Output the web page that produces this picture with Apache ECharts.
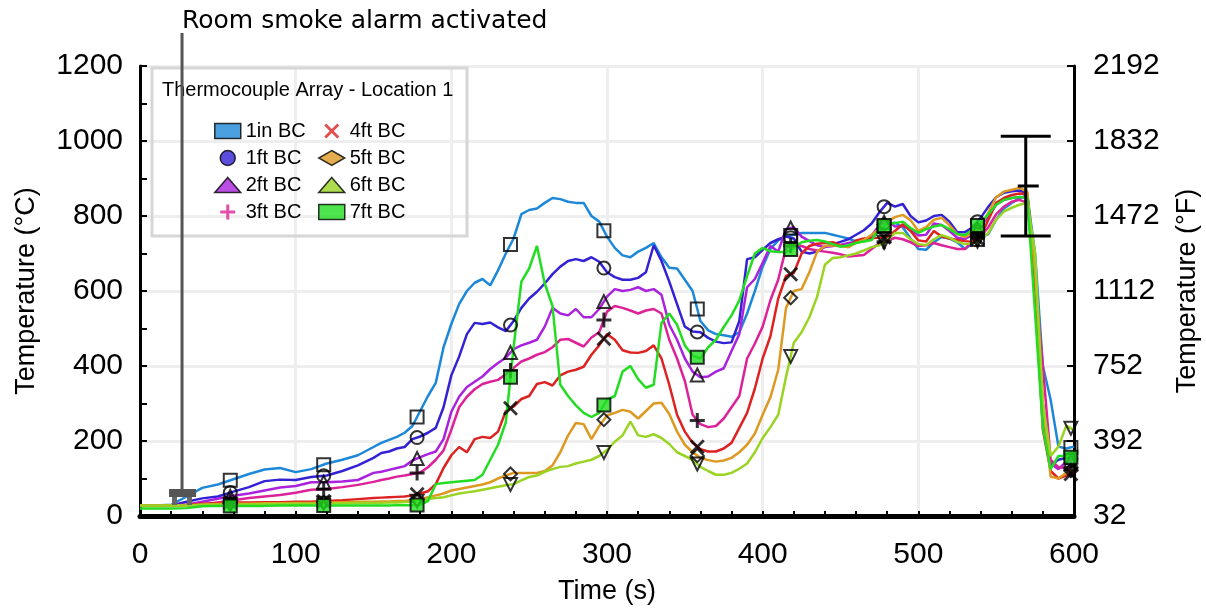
<!DOCTYPE html>
<html><head><meta charset="utf-8">
<script src="https://cdn.jsdelivr.net/npm/echarts@6/dist/echarts.min.js"></script>
<style>html,body{margin:0;padding:0;background:#fff}#c{width:1206px;height:609px}</style>
</head><body><div id="c"></div>
<script>
// ---------- DATA ----------
const times = [0,10,20,30,40,50,60,70,80,90,100,110,120,130,140,150,
155,160,165,170,175,180,185,190,195,200,
205,210,215,220,225,230,235,240,245,250,
255,260,265,270,275,280,285,290,295,300,
305,310,315,320,325,330,335,340,345,350,
355,360,365,370,375,380,385,390,395,400,
405,410,415,420,425,430,435,440,445,450,
455,460,465,470,475,480,485,490,495,500,
505,510,515,520,525,530,535,540,545,550,
555,560,565,570,575,580,585,590,595,600];

const tc1in = [28,28,30,52,75,84,98,112,124,128,117,125,140,150,162,184,
195,203,211,222,240,280,320,355,450,512,
565,600,622,632,615,655,700,740,805,816,
820,835,848,845,838,835,835,800,785,745,
715,695,690,705,715,728,690,662,660,630,
600,520,495,485,482,478,490,540,600,665,
712,735,745,750,755,755,755,755,750,745,
740,732,735,742,760,780,782,770,740,712,
710,730,744,740,730,712,728,744,752,790,
820,835,848,855,700,400,310,185,180,185];

const tc1ft = [28,28,28,38,47,52,65,77,93,97,96,104,108,120,135,155,
168,172,180,184,205,212,222,235,290,375,
425,485,515,512,516,503,493,520,555,580,
598,620,645,665,680,685,680,690,678,650,
637,630,630,635,650,722,680,625,565,505,
492,490,475,465,461,463,520,685,690,710,
728,738,745,740,705,700,705,718,725,731,
738,750,762,780,810,835,825,832,800,783,
788,800,803,785,757,757,770,795,825,850,
862,866,868,860,640,260,135,150,155,150];

const tc2ft = [28,28,28,30,38,46,54,60,68,76,80,90,90,92,96,115,
118,123,128,133,148,157,165,172,205,278,
318,344,358,372,392,408,422,445,455,462,
470,505,555,540,535,552,530,530,552,585,
605,600,603,610,600,605,590,510,470,420,
385,370,372,385,394,440,485,610,632,675,
720,705,765,770,745,733,722,717,720,723,
728,731,737,748,775,789,772,773,765,748,
750,780,776,760,742,738,752,770,800,830,
843,848,851,848,620,300,140,125,145,150];

const tc3ft = [28,28,28,28,30,36,42,48,52,56,62,70,72,77,83,91,
96,100,105,108,112,116,130,150,175,230,
290,318,338,352,358,363,378,395,412,420,
430,437,450,470,472,462,452,476,490,545,
560,555,548,540,548,552,540,470,420,360,
270,245,237,240,260,290,320,420,460,505,
576,630,715,725,720,712,708,705,702,698,
692,694,696,712,728,734,742,738,730,720,
722,728,722,717,712,712,735,745,770,805,
825,838,843,835,630,400,150,130,128,120];

const tc4ft = [28,28,28,30,33,35,36,36,37,37,38,38,40,42,45,48,
49,50,51,52,55,60,66,85,128,162,
184,170,205,211,208,225,280,292,312,320,
352,357,348,375,385,390,398,430,455,485,
470,442,436,435,440,455,420,350,270,225,
195,178,172,172,180,195,235,275,340,420,
480,580,640,648,700,720,726,728,730,722,
717,735,740,741,742,744,760,778,760,735,
732,760,745,740,736,733,731,745,790,835,
848,856,860,858,600,230,120,100,108,115];

const tc5ft = [28,28,28,28,30,32,33,33,34,34,35,35,36,37,38,38,
39,39,40,40,42,45,50,55,60,68,
72,76,80,84,90,100,108,115,115,115,
115,120,135,170,215,248,245,205,240,268,
275,283,278,260,280,300,302,272,225,190,
170,155,149,145,148,155,170,190,220,270,
317,390,555,600,605,650,705,720,722,720,
717,728,736,750,765,785,797,803,789,760,
770,790,795,775,752,744,755,771,810,850,
865,870,875,865,650,300,105,100,115,125];

const tc6ft = [28,28,28,28,30,30,31,31,32,32,33,33,34,34,35,35,
35,36,36,37,38,40,45,48,50,55,
60,63,66,70,74,78,82,85,95,104,
108,118,125,131,133,140,145,150,160,176,
198,215,252,215,211,218,208,192,170,160,
150,131,120,110,110,115,126,140,170,208,
237,270,371,462,490,530,585,670,688,690,
695,700,708,717,722,735,755,755,738,725,
722,738,749,742,731,725,728,736,755,790,
812,822,830,835,700,300,160,185,240,230];

const tc7ft = [20,20,20,21,26,27,27,27,27,28,28,28,28,28,28,28,
28,28,29,29,29,30,40,85,88,90,
92,94,96,110,150,190,250,450,625,660,
720,620,560,350,320,295,275,264,275,310,
320,385,400,365,342,350,515,540,510,455,
428,420,450,470,504,535,575,640,700,715,
706,704,704,715,730,734,736,732,725,718,
722,728,732,736,765,781,781,785,768,755,
765,772,776,765,752,749,765,781,805,830,
843,848,851,848,540,235,125,160,160,155];

const seriesNames = ['1in BC','1ft BC','2ft BC','3ft BC','4ft BC','5ft BC','6ft BC','7ft BC'];
const seriesValues = [tc1in, tc1ft, tc2ft, tc3ft, tc4ft, tc5ft, tc6ft, tc7ft];
const seriesColors = ['#1e88d8','#3322d4','#aa22dd','#dd2299','#dd2222','#dd9922','#99d422','#22dd22'];
const markerTimes = [58,118,178,238,298,358,418,478,538,598];

const leftTickLabels  = ['0','200','400','600','800','1000','1200'];
const rightTickLabels = ['32','392','752','1112','1472','1832','2192'];
const xTickLabels     = ['0','100','200','300','400','500','600'];

const alarmTime = 27;          // s, room smoke alarm activated
const alarmLabel = 'Room smoke alarm activated';
const legendTitle = 'Thermocouple Array - Location 1';
const errorBar = [[569, 880, 133]]; // time, centre, half-range

// ---------- STYLE HELPERS ----------
const PLUS = 'path://M-1.2,-6H1.2V-1.2H6V1.2H1.2V6H-1.2V1.2H-6V-1.2H-1.2Z';
const CROSS = 'path://M-4.4,-6L0,-1.6L4.4,-6L6,-4.4L1.6,0L6,4.4L4.4,6L0,1.6L-4.4,6L-6,4.4L-1.6,0L-6,-4.4Z';
const symbols = ['rect','circle','triangle',PLUS,CROSS,'diamond','triangle','rect'];
const rotates = [0,0,0,0,0,0,180,0];

function valueAt(arr, t){
  for (let i=0;i<times.length-1;i++){
    if (t>=times[i] && t<=times[i+1]){
      const f=(t-times[i])/(times[i+1]-times[i]);
      return arr[i]+f*(arr[i+1]-arr[i]);
    }
  }
  return arr[arr.length-1];
}

const series = [];
seriesNames.forEach((name,i)=>{
  series.push({
    name: name+' ', type:'line', data: times.map((t,k)=>[t, seriesValues[i][k]]),
    showSymbol:false, symbol:'none', lineStyle:{color:seriesColors[i], width:2.5},
    itemStyle:{color:seriesColors[i]}, z:2, silent:true, animation:false
  });
});
seriesNames.forEach((name,i)=>{
  const filled = (i===3 || i===4);
  const st = (i===7) ? {color:seriesColors[i], borderColor:'#000', borderWidth:2}
           : filled ? {color:'#000'}
           : {color:'rgba(0,0,0,0)', borderColor:'#000', borderWidth:2};
  series.push({
    name: name, type:'scatter', data: markerTimes.map(t=>[t, valueAt(seriesValues[i], t)]),
    symbol: symbols[i], symbolRotate: rotates[i], symbolSize: (i===3||i===4)?15:13,
    itemStyle: st, z:4, animation:false
  });
});
series.push({
  type:'custom', data: errorBar, z:6, animation:false, silent:true,
  renderItem(params, api){
    const t=api.value(0), m=api.value(1), h=api.value(2);
    const top=api.coord([t,m+h]), mid=api.coord([t,m]), bot=api.coord([t,m-h]);
    const ls={stroke:'#000', lineWidth:3};
    return {type:'group', children:[
      {type:'line', shape:{x1:top[0],y1:top[1],x2:bot[0],y2:bot[1]}, style:ls},
      {type:'line', shape:{x1:top[0]-25,y1:top[1],x2:top[0]+25,y2:top[1]}, style:ls},
      {type:'line', shape:{x1:bot[0]-25,y1:bot[1],x2:bot[0]+25,y2:bot[1]}, style:ls},
      {type:'line', shape:{x1:mid[0]-8,y1:mid[1],x2:mid[0]+13,y2:mid[1]}, style:ls}
    ]};
  }
});

function legendItem(i){
  const filled = (i===3 || i===4);
  return {name:seriesNames[i], icon:symbols[i], itemStyle: filled ? {color:seriesColors[i], borderWidth:0}
          : {color:seriesColors[i], borderColor:'#000', borderWidth:1.5}};
}
const legendBase = {orient:'vertical', top:116, itemWidth:26, itemHeight:15, itemGap:7,
  symbolKeepAspect:true, selectedMode:false,
  textStyle:{fontFamily:'"Liberation Sans", Arial, sans-serif', fontSize:20, color:'#000'}};

const tickFont = '"Liberation Sans Narrow", "Arial Narrow", "Liberation Sans", sans-serif';
const nameFont = '"Liberation Sans", Arial, sans-serif';

const option = {
  animation:false,
  backgroundColor:'#fff',
  grid:{left:140, right:132, top:66, bottom:93, containLabel:false, outerBoundsMode:'none'},
  legend:[
    Object.assign({}, legendBase, {left:209, data:[0,1,2,3].map(legendItem)}),
    Object.assign({}, legendBase, {left:313, data:[4,5,6,7].map(legendItem)})
  ],
  xAxis:{type:'value', min:0, max:600, interval:100,
    axisLine:{lineStyle:{color:'#000', width:5}},
    axisTick:{show:true, inside:true, length:5, lineStyle:{color:'#000', width:2}},
    minorTick:{show:true, splitNumber:5, length:5, lineStyle:{color:'#000', width:2}},
    splitLine:{show:true, lineStyle:{color:'#eeeeee', width:3}},
    axisLabel:{fontFamily:tickFont, fontSize:30, color:'#000', margin:24,
      formatter:(v)=>xTickLabels[Math.round(v/100)]},
    name:'Time (s)', nameLocation:'middle', nameGap:62,
    nameTextStyle:{fontFamily:nameFont, fontSize:27, color:'#000'}},
  yAxis:[
    {type:'value', min:0, max:1200, interval:200, position:'left',
      axisLine:{show:true, lineStyle:{color:'#000', width:3}},
      axisTick:{show:true, inside:true, length:7, lineStyle:{color:'#000', width:2}},
      minorTick:{show:true, splitNumber:2, length:7, lineStyle:{color:'#000', width:2}},
      splitLine:{show:true, lineStyle:{color:'#eeeeee', width:3}},
      axisLabel:{fontFamily:tickFont, fontSize:30, color:'#000', margin:17,
        formatter:(v)=>leftTickLabels[Math.round(v/200)]},
      name:'Temperature (°C)', nameLocation:'middle', nameGap:100, nameRotate:90,
      nameTextStyle:{fontFamily:nameFont, fontSize:27, color:'#000'}},
    {type:'value', min:0, max:1200, interval:200, position:'right',
      axisLine:{show:true, lineStyle:{color:'#000', width:3}},
      axisTick:{show:true, inside:true, length:7, lineStyle:{color:'#000', width:2}},
      splitLine:{show:false},
      axisLabel:{fontFamily:tickFont, fontSize:30, color:'#000', margin:19,
        formatter:(v)=>rightTickLabels[Math.round(v/200)]},
      name:'Temperature (°F)', nameLocation:'middle', nameGap:100, nameRotate:90,
      nameTextStyle:{fontFamily:nameFont, fontSize:27, color:'#000'}}
  ],
  series: series
};

const chart = echarts.init(document.getElementById('c'), null, {renderer:'canvas'});
chart.setOption(option);

// annotations positioned through the chart's own scales
const ax = chart.convertToPixel({xAxisIndex:0}, alarmTime);
const iconTop = chart.convertToPixel({yAxisIndex:0}, 72);
chart.setOption({graphic:[
  {type:'rect', shape:{x:152, y:68, width:315, height:168}, style:{fill:'none', stroke:'#d6d6d6', lineWidth:3}, z:1},
  {type:'text', style:{text:legendTitle, x:162, y:90, fontFamily:nameFont, fontSize:20, fill:'#000', verticalAlign:'middle'}, z:10},
  {type:'line', shape:{x1:ax, y1:33, x2:ax, y2:iconTop}, style:{stroke:'#555', lineWidth:3}, z:10},
  {type:'text', style:{text:alarmLabel, x:ax, y:21, fontFamily:'"DejaVu Sans", sans-serif', fontSize:25, fill:'#000', verticalAlign:'middle'}, z:10},
  {type:'rect', shape:{x:ax-13, y:iconTop, width:27, height:8}, style:{fill:'#555'}, z:10},
  {type:'rect', shape:{x:ax-10, y:iconTop+8, width:5, height:8}, style:{fill:'#666'}, z:10},
  {type:'rect', shape:{x:ax+5, y:iconTop+8, width:5, height:8}, style:{fill:'#666'}, z:10}
]});
</script>
</body></html>
